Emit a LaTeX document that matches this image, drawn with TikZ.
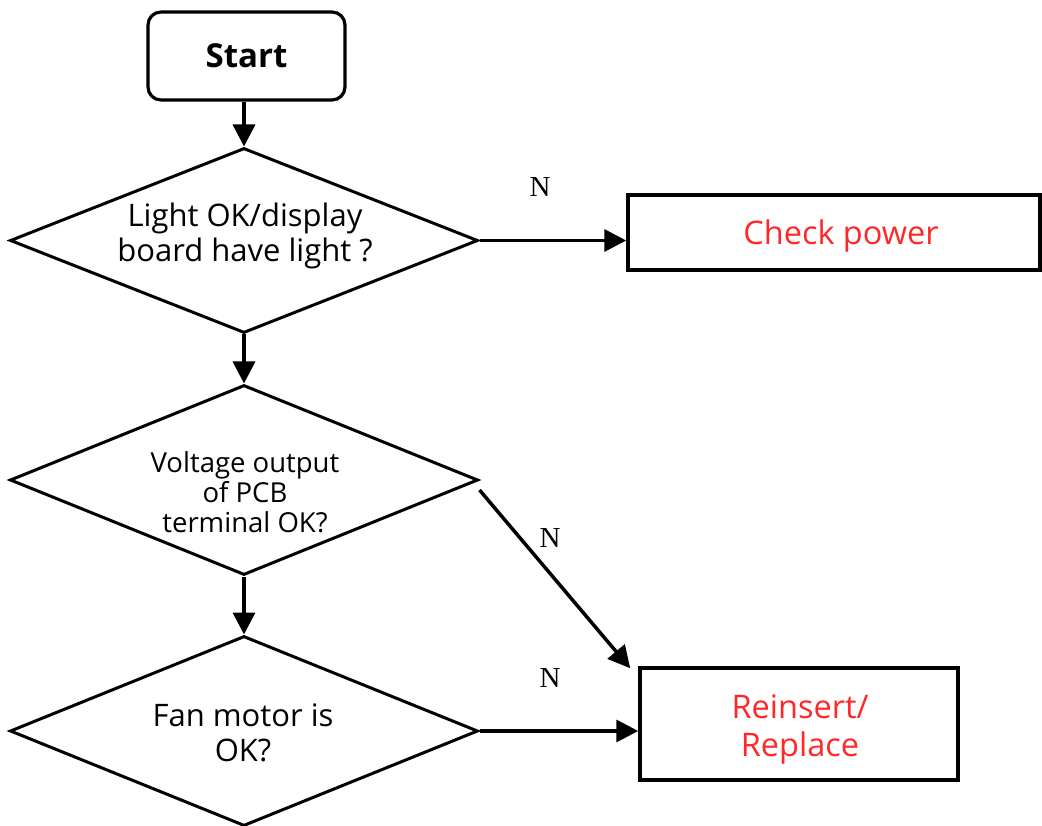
\documentclass[tikz,border=0pt]{standalone}
\usepackage{fontspec}
\setmainfont{Open Sans}
\newfontfamily\labelfont{Liberation Serif}
\usetikzlibrary{shapes.geometric,arrows.meta}
\definecolor{actred}{RGB}{255,40,40}
\begin{document}
\begin{tikzpicture}[x=1pt,y=-1pt,
  startbox/.style={draw,line width=3.2pt,rounded corners=13pt,minimum width=197pt,minimum height=88pt,inner sep=0pt,font=\fontsize{33}{38}\selectfont\bfseries},
  decision/.style={draw,diamond,line width=3pt,inner sep=0pt,minimum width=468pt},
  dtext/.style={align=center,inner sep=0pt,font=\fontsize{31}{35}\selectfont},
  action/.style={draw,line width=3.5pt,inner sep=0pt},
  atext/.style={align=center,inner sep=0pt,text=actred,font=\fontsize{32.5}{38}\selectfont},
  flow/.style={line width=3.5pt,-{Triangle[length=22pt,width=22pt]}},
  nlabel/.style={font=\labelfont\fontsize{29}{30}\selectfont}]
\useasboundingbox (0,0) rectangle (1042,826);
\clip (0,0) rectangle (1042,826);

% Start terminal
\node[startbox] (start) at (246.5,56) {Start};

% Decisions (outlines, then their captions)
\node[decision,minimum height=185pt] (light) at (244,240.5) {};
\node[decision,minimum height=190pt] (volt) at (244,480) {};
\node[decision,minimum height=190pt] (fan) at (244,731) {};

\node[dtext] (lighttxt) at (245,235.5) {Light OK/display\\board have light ?};
\node[dtext,font=\fontsize{27.5}{30}\selectfont] (volttxt) at (245,492) {Voltage output\\of PCB\\terminal OK?};
\node[dtext] (fantxt) at (243,732.5) {Fan motor is\\OK?};

% Actions
\node[action,minimum width=412pt,minimum height=75pt] (power) at (834,232.5) {};
\node[action,minimum width=318pt,minimum height=112pt] (reins) at (799,724) {};
\node[atext] (powertxt) at (841,236) {Check power};
\node[atext] (reinstxt) at (800,729) {Reinsert/\\Replace};

% Main flow
\draw[flow] (light.north |- start.south) -- (light.north);
\draw[flow] (light.south) -- (volt.north);
\draw[flow] (volt.south) -- (fan.north);

% "No" branches
\draw[flow] (light.east) -- (light.east -| power.west);
\draw[flow] ([yshift=-10pt]volt.east) -- ([xshift=-8pt,yshift=-2pt]reins.north west);
\draw[flow] (fan.east) -- (fan.east -| reins.west);

\node[nlabel] (n1) at (540,187) {N};
\node[nlabel] (n2) at (550,538) {N};
\node[nlabel] (n3) at (550,678) {N};
\end{tikzpicture}
\end{document}
